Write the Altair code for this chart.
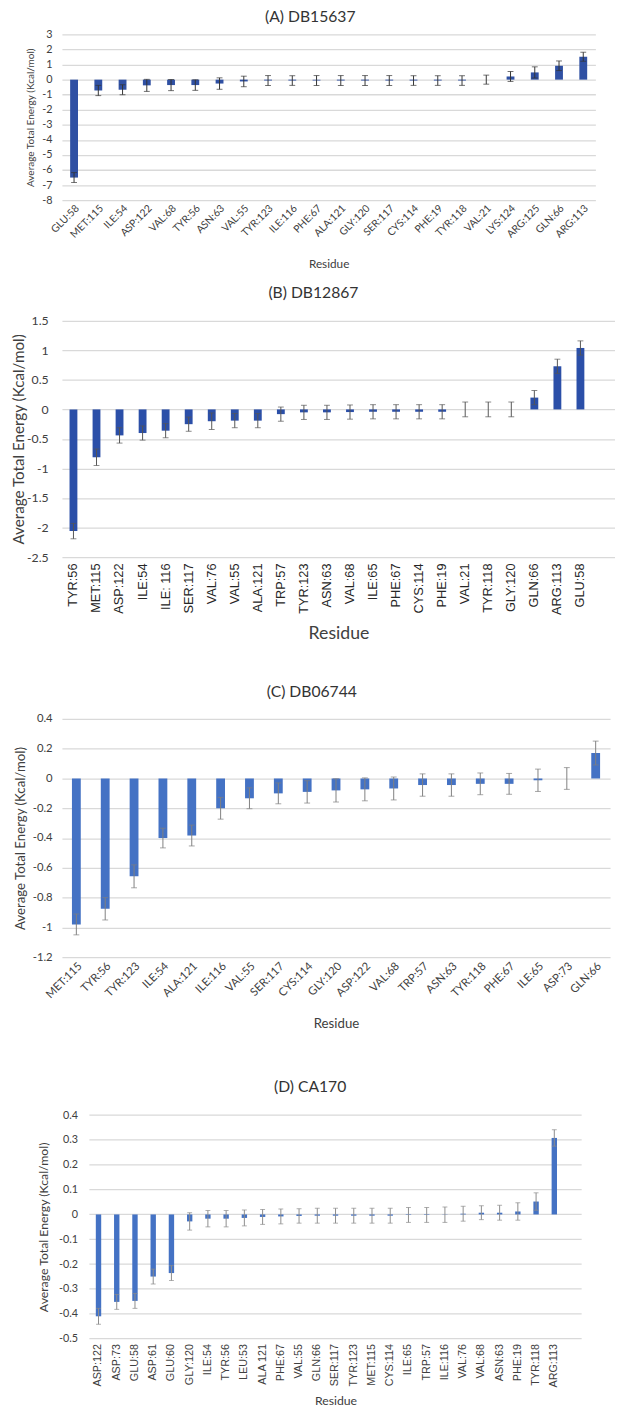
import altair as alt
import pandas as pd

# ---------------- data ----------------
a_res = ["GLU:58", "MET:115", "ILE:54", "ASP:122", "VAL:68", "TYR:56", "ASN:63", "VAL:55",
         "TYR:123", "ILE:116", "PHE:67", "ALA:121", "GLY:120", "SER:117", "CYS:114", "PHE:19",
         "TYR:118", "VAL:21", "LYS:124", "ARG:125", "GLN:66", "ARG:113"]
a_val = [-6.5, -0.72, -0.67, -0.38, -0.36, -0.36, -0.26, -0.12, -0.06, -0.06, -0.06, -0.06,
         -0.06, -0.06, -0.06, -0.06, -0.06, 0.0, 0.21, 0.48, 0.92, 1.52]
a_err = [0.33, 0.34, 0.33, 0.4, 0.37, 0.35, 0.38, 0.35, 0.33, 0.32, 0.33, 0.33, 0.33, 0.33,
         0.32, 0.32, 0.32, 0.3, 0.33, 0.37, 0.32, 0.3]

b_res = ["TYR:56", "MET:115", "ASP:122", "ILE:54", "ILE: 116", "SER:117", "VAL:76", "VAL:55",
         "ALA:121", "TRP:57", "TYR:123", "ASN:63", "VAL:68", "ILE:65", "PHE:67", "CYS:114",
         "PHE:19", "VAL:21", "TYR:118", "GLY:120", "GLN:66", "ARG:113", "GLU:58"]
b_val = [-2.06, -0.81, -0.44, -0.4, -0.36, -0.25, -0.2, -0.19, -0.19, -0.08, -0.05, -0.05,
         -0.045, -0.04, -0.04, -0.04, -0.04, 0.0, 0.0, 0.0, 0.2, 0.73, 1.04]
b_err = [0.13, 0.14, 0.13, 0.12, 0.12, 0.12, 0.14, 0.12, 0.12, 0.12, 0.12, 0.12, 0.12, 0.12,
         0.12, 0.12, 0.12, 0.125, 0.125, 0.125, 0.12, 0.12, 0.12]

c_res = ["MET:115", "TYR:56", "TYR:123", "ILE:54", "ALA:121", "ILE:116", "VAL:55", "SER:117",
         "CYS:114", "GLY:120", "ASP:122", "VAL:68", "TRP:57", "ASN:63", "TYR:118", "PHE:67",
         "ILE:65", "ASP:73", "GLN:66"]
c_val = [-0.98, -0.875, -0.657, -0.4, -0.383, -0.2, -0.133, -0.1, -0.09, -0.08, -0.073,
         -0.067, -0.044, -0.044, -0.036, -0.036, -0.012, 0.0, 0.171]
c_err = [0.07, 0.075, 0.077, 0.066, 0.07, 0.073, 0.07, 0.07, 0.075, 0.078, 0.077, 0.077,
         0.075, 0.075, 0.073, 0.07, 0.075, 0.073, 0.08]

d_res = ["ASP:122", "ASP:73", "GLU:58", "ASP:61", "GLU:60", "GLY:120", "ILE:54", "TYR:56",
         "LEU:53", "ALA 121", "PHE:67", "VAL:55", "GLN:66", "SER:117", "TYR:123", "MET:115",
         "CYS:114", "ILE:65", "TRP:57", "ILE:116", "VAL:76", "VAL:68", "ASN:63", "PHE:19",
         "TYR:118", "ARG:113"]
d_val = [-0.41, -0.352, -0.348, -0.25, -0.236, -0.028, -0.017, -0.017, -0.014, -0.01,
         -0.008, -0.006, -0.005, -0.005, -0.005, -0.005, -0.005, -0.002, -0.002, -0.001,
         0.003, 0.007, 0.007, 0.012, 0.052, 0.308]
d_err = [0.032, 0.03, 0.03, 0.03, 0.03, 0.035, 0.033, 0.033, 0.032, 0.03, 0.03, 0.029,
         0.03, 0.03, 0.03, 0.03, 0.03, 0.03, 0.03, 0.031, 0.03, 0.028, 0.03, 0.035, 0.035,
         0.033]

a_ticks = [3, 2, 1, 0, -1, -2, -3, -4, -5, -6, -7, -8]
b_ticks = [1.5, 1, 0.5, 0, -0.5, -1, -1.5, -2, -2.5]
c_ticks = [0.4, 0.2, 0, -0.2, -0.4, -0.6, -0.8, -1, -1.2]
d_ticks = [0.4, 0.3, 0.2, 0.1, 0, -0.1, -0.2, -0.3, -0.4, -0.5]

titles = ["(A) DB15637", "(B) DB12867", "(C) DB06744", "(D) CA170"]
y_title = "Average Total Energy (Kcal/mol)"
x_title = "Residue"

CAL = "Lato"
ARI = "Liberation Sans"
GRID = "#D9D9D9"


def panel(res, val, err, ticks, title, width, height, bar_color, err_color, bar_size,
          cap_size, xl_font, xl_size, xl_angle, xl_color, xl_pad, xt_size, xt_pad,
          yl_size, yl_pad, yt_size, yt_pad, title_size, title_offset,
          pad_outer=0.0, xrange=None, yoffset=0, manual_grid=False):
    df = pd.DataFrame({"res": res, "val": val, "err": err})
    sc = dict(domain=res, paddingInner=0, paddingOuter=pad_outer, align=0)
    if xrange is not None:
        sc["range"] = xrange
    xscale = alt.Scale(**sc)
    yscale = alt.Scale(domain=[min(ticks), max(ticks)], nice=False, zero=False)
    if xl_angle == -90:
        xl_align, xl_base = "right", "middle"
    else:
        xl_align, xl_base = "right", "top"
    xaxis = alt.Axis(title=x_title, labelFont=xl_font, labelFontSize=xl_size,
                     labelAngle=xl_angle, labelAlign=xl_align, labelBaseline=xl_base,
                     labelColor=xl_color, labelPadding=xl_pad, labelOverlap=False,
                     titleFont=CAL, titleFontSize=xt_size, titleFontWeight="normal",
                     titleColor="#404040", titlePadding=xt_pad, grid=False,
                     domain=False, ticks=False)
    yaxis = alt.Axis(title=y_title, values=ticks, labelExpr="'' + datum.value",
                     labelFont=CAL, labelFontSize=yl_size, labelColor="#404040",
                     labelPadding=yl_pad, titleFont=CAL, titleFontSize=yt_size,
                     titleFontWeight="normal", titleColor="#404040", titlePadding=yt_pad,
                     grid=not manual_grid, gridColor=GRID, gridWidth=1.3,
                     offset=yoffset, domain=False, ticks=False)

    def X():
        return alt.X("res:N", sort=res, scale=xscale, axis=xaxis, title=x_title)

    def Y(field):
        return alt.Y(field, scale=yscale, axis=yaxis, title=y_title)

    base = alt.Chart(df)
    layers = []
    if manual_grid:
        gdf = pd.DataFrame({"v": ticks})
        layers.append(alt.Chart(gdf).mark_rule(color=GRID, strokeWidth=1.3).encode(
            y=Y("v:Q"), x=alt.value(xrange[0]), x2=alt.value(xrange[1])))
    bars = base.mark_bar(size=bar_size, color=bar_color).encode(x=X(), y=Y("val:Q"))
    eb = base.transform_calculate(lo="datum.val - datum.err", hi="datum.val + datum.err")
    rules = eb.mark_rule(color=err_color, strokeWidth=1).encode(
        x=X(), y=Y("lo:Q"), y2="hi:Q")
    cap_lo = eb.mark_tick(color=err_color, size=cap_size, thickness=1).encode(
        x=X(), y=Y("lo:Q"))
    cap_hi = eb.mark_tick(color=err_color, size=cap_size, thickness=1).encode(
        x=X(), y=Y("hi:Q"))
    layers += [bars, rules, cap_lo, cap_hi]
    tp = dict(font=CAL, fontSize=title_size, fontWeight="normal", color="#333333",
              anchor="middle", frame="bounds", offset=title_offset)
    return alt.layer(*layers).properties(
        width=width, height=height, title=alt.TitleParams(title, **tp))


pa = panel(a_res, a_val, a_err, a_ticks, titles[0], 544, 169, "#2F50A3", "#333333", 8, 6,
           CAL, 10.5, -45, "#404040", 3, 12, 19, 11, 10, 10.2, 7, 16, 4)
pb = panel(b_res, b_val, b_err, b_ticks, titles[1], 564, 241, "#2B4FA8", "#555555", 8, 6,
           ARI, 13, -90, "#262626", 6, 18, 10, 12.5, 14, 15.5, 0, 16, 14, pad_outer=0.5)
pc = panel(c_res, c_val, c_err, c_ticks, titles[2], 559, 243, "#4472C4", "#7F7F7F", 9, 6,
           CAL, 11.5, -45, "#404040", 3, 13.5, 17, 11.5, 10, 13.5, 5, 16, 13)
pd_ = panel(d_res, d_val, d_err, d_ticks, titles[3], 530, 228, "#4472C4", "#8C8C8C", 5.5, 5,
            ARI, 11, -90, "#404040", 5, 12.5, 8, 11, 12, 12.5, 8, 16, 15,
            pad_outer=0.5, xrange=[28, 530], yoffset=-28, manual_grid=True)

chart = alt.vconcat(
    alt.vconcat(pa, pb, spacing=16),
    alt.vconcat(pc, pd_, spacing=49),
    spacing=43,
).properties(padding={"left": 3, "top": -13, "right": 0, "bottom": 0}).configure_view(
    stroke=None)

chart.save("out.html", embed_options={"renderer": "svg", "actions": False})
